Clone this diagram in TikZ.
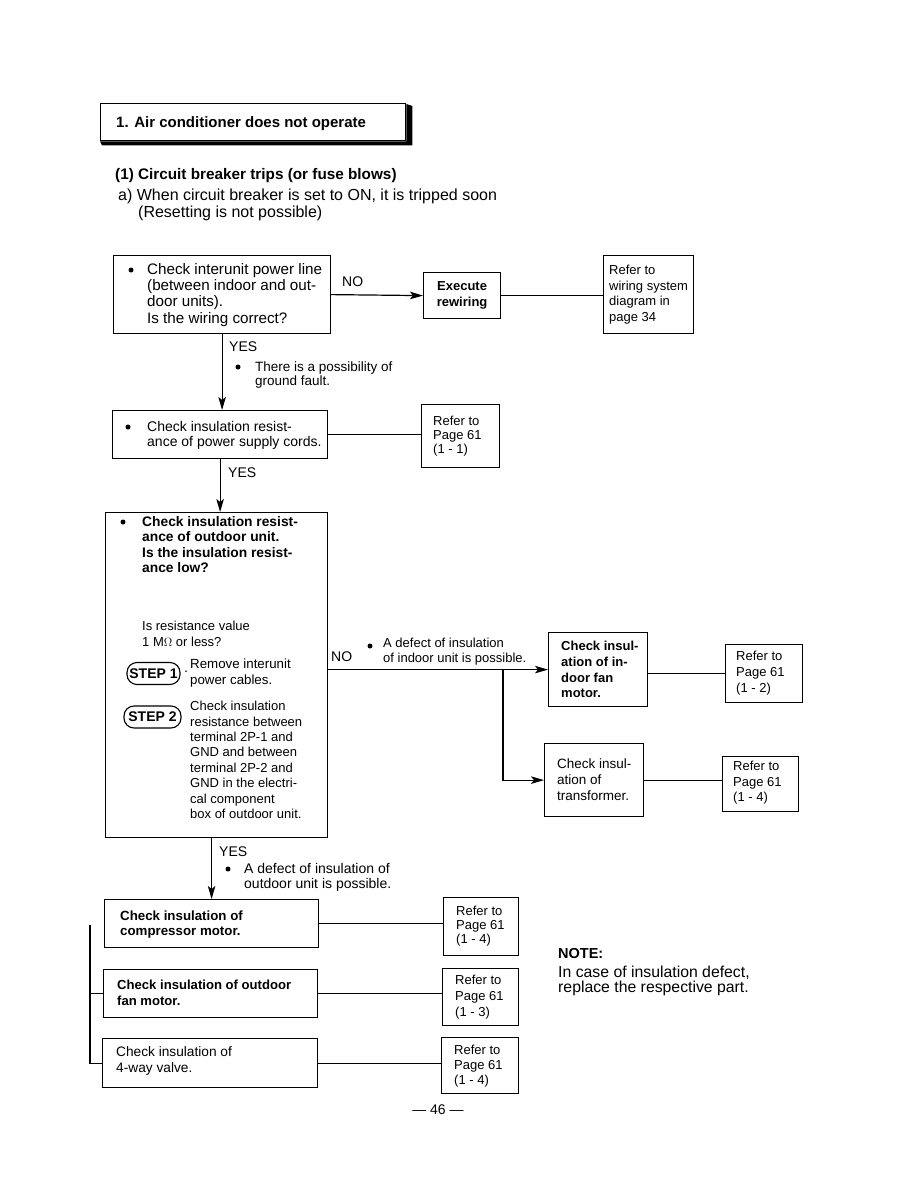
\documentclass[tikz,border=0pt]{standalone}
\usepackage{fontspec}
\setmainfont{Liberation Sans}
\usetikzlibrary{arrows.meta,calc}
\newcommand\myfs[2]{\fontsize{#1}{#2}\selectfont}
\begin{document}
\begin{tikzpicture}[x=1pt,y=-1pt,
  bx/.style={draw, line width=1.2pt, inner sep=0, anchor=north west},
  t/.style={inner sep=0, anchor=north west, align=left, font=\myfs{14}{15.5}},
  tb/.style={t, font=\myfs{14}{15.5}\bfseries},
  ts/.style={t, font=\myfs{13}{15.5}},
  ln/.style={line width=1.2pt},
  arr/.style={ln, -{Stealth[length=13pt,width=7.5pt,inset=3pt]}},
  bul/.style={circle, fill, inner sep=0, minimum size=5pt},
  stepbox/.style={draw, line width=1.1pt, rounded corners=10pt, minimum height=22pt, inner sep=1pt, font=\myfs{14}{14}\bfseries}
]
\useasboundingbox (0,0) rectangle (918,1188);
% header
\node[draw, line width=1.3pt, anchor=north west, minimum width=305pt, minimum height=37pt, inner sep=0] (hdr) at (100,103) {};
\fill ($(hdr.north east)+(0,1)$) -- ++(6,2) -- ($(hdr.south east)+(6,4)$) -- ($(hdr.south west)+(2,4)$) -- (hdr.south west) -- (hdr.south east) -- cycle;
\node[t, font=\myfs{15}{16}\bfseries] (title) at (116,116) {1. Air conditioner does not operate};
\node[t, font=\myfs{15.3}{16}\bfseries] (sub1) at (115,168) {(1) Circuit breaker trips (or fuse blows)};
\node[t, font=\myfs{16}{17}] (sub2a) at (118,189) {a) When circuit breaker is set to ON, it is tripped soon};
\node[t, font=\myfs{16}{17}] (sub2b) at (138,206) {(Resetting is not possible)};

% box 1
\node[bx, minimum width=217pt, minimum height=78pt] (b1) at (113,255) {};
\node[bul] (bu1) at (131,270) {};
\node[t, font=\myfs{15.2}{16.3}] (b1t) at (147,263) {Check interunit power line\\(between indoor and out-\\door units).\\Is the wiring correct?};
\node[t] (no1) at (342,277) {NO};
\node[bx, minimum width=77pt, minimum height=46pt, font=\myfs{13}{15.5}\bfseries, align=center] (exe) at (423,272) {Execute\\rewiring};
\node[bx, minimum width=90pt, minimum height=78pt] (refw) at (603,255) {};
\node[ts] (refwt) at (609,265) {Refer to\\wiring system\\diagram in\\page 34};
\draw[arr] (b1.east) -- (exe.west);
\draw[ln] (exe.east) -- (exe.east -| refw.west);

% box 2
\node[bx, minimum width=215pt, minimum height=48pt] (b2) at (112,410) {};
\draw[arr] (b1.south) -- (b1.south |- b2.north);
\node[t] (yes1) at (229,342) {YES};
\node[bul] (bu2) at (238,367) {};
\node[ts, font=\myfs{13.5}{14}] (gf) at (255,362) {There is a possibility of\\ground fault.};
\node[bul] (bu3) at (128,427) {};
\node[t] (b2t) at (147,421) {Check insulation resist-\\ance of power supply cords.};
\node[bx, minimum width=78pt, minimum height=63pt] (ref1) at (421,404) {};
\node[ts, font=\myfs{13}{14}] (ref1t) at (433,416) {Refer to\\Page 61\\(1 - 1)};
\draw[ln] (b2.east) -- (b2.east -| ref1.west);

% box 3
\node[bx, minimum width=222pt, minimum height=325pt] (b3) at (105,512) {};
\draw[arr] (b2.south) -- (b2.south |- b3.north);
\node[t] (yes2) at (228,468) {YES};
\node[bul] (bu4) at (123,522) {};
\node[tb, font=\myfs{13.8}{15.4}\bfseries] (b3t) at (142,516) {Check insulation resist-\\ance of outdoor unit.\\Is the insulation resist-\\ance low?};
\node[ts, font=\myfs{13}{16}] (b3q) at (142,621) {Is resistance value\\1 M$\Omega$ or less?};
\node[stepbox, minimum width=53pt] (s1) at (153.5,673.5) {STEP 1};
\node[t] (dot) at (184,671) {.};
\node[ts, font=\myfs{13.3}{15.5}] (s1t) at (190,659) {Remove interunit\\power cables.};
\node[stepbox, minimum width=57pt] (s2) at (152.5,717) {STEP 2};
\node[ts, font=\myfs{13}{15.4}] (s2t) at (190,701) {Check insulation\\resistance between\\terminal 2P-1 and\\GND and between\\terminal 2P-2 and\\GND in the electri-\\cal component\\box of outdoor unit.};

% indoor branch
\node[bx, minimum width=99pt, minimum height=74pt] (fan) at (548,632) {};
\node[tb, font=\myfs{13}{15.7}\bfseries] (fant) at (561,641) {Check insul-\\ation of in-\\door fan\\motor.};
\node[bx, minimum width=77pt, minimum height=58pt] (ref2) at (725,644) {};
\node[ts, font=\myfs{13}{16}] (ref2t) at (736,651) {Refer to\\Page 61\\(1 - 2)};
\node[bx, minimum width=99pt, minimum height=73pt] (trans) at (544,743) {};
\node[ts, font=\myfs{13.5}{16}] (transt) at (557,759) {Check insul-\\ation of\\transformer.};
\node[bx, minimum width=76pt, minimum height=55pt] (ref4) at (722,756) {};
\node[ts, font=\myfs{13}{15.5}] (ref4t) at (733,761) {Refer to\\Page 61\\(1 - 4)};
\coordinate (jn) at (503,669);
\draw[arr] (b3.east |- fan.west) -- (fan.west);
\draw[arr] (jn) |- (trans.west);
\draw[ln] (fan.east |- ref2.west) -- (ref2.west);
\draw[ln] (trans.east) -- (trans.east -| ref4.west);
\node[t] (no2) at (331,652) {NO};
\node[bul] (bu5) at (370,646) {};
\node[ts, font=\myfs{13}{15}] (ind) at (383,638) {A defect of insulation\\of indoor unit is possible.};

% bottom boxes
\node[bx, minimum width=214pt, minimum height=48pt] (comp) at (104,899) {};
\draw[arr] (b3.south -| comp.north) -- (comp.north);
\node[t] (yes3) at (219,847) {YES};
\node[bul] (bu6) at (228,869) {};
\node[ts, font=\myfs{14}{15}] (outd) at (244,863) {A defect of insulation of\\outdoor unit is possible.};
\node[tb, font=\myfs{13.3}{14.5}\bfseries] (compt) at (120,911) {Check insulation of\\compressor motor.};
\node[bx, minimum width=75pt, minimum height=58pt] (refc) at (443,897) {};
\node[ts, font=\myfs{13}{14}] (refct) at (456,906) {Refer to\\Page 61\\(1 - 4)};
\draw[ln] (comp.east) -- (comp.east -| refc.west);

\node[bx, minimum width=214pt, minimum height=48pt] (ofan) at (103,969) {};
\node[tb, font=\myfs{13.1}{16}\bfseries] (ofant) at (117,980) {Check insulation of outdoor\\fan motor.};
\node[bx, minimum width=76pt, minimum height=57pt] (refo) at (442,968) {};
\node[ts, font=\myfs{13}{16}] (refot) at (455,975) {Refer to\\Page 61\\(1 - 3)};
\draw[ln] (ofan.east) -- (ofan.east -| refo.west);

\node[bx, minimum width=215pt, minimum height=49pt] (way) at (102,1038) {};
\node[t, font=\myfs{13.7}{16.5}] (wayt) at (116,1046) {Check insulation of\\4-way valve.};
\node[bx, minimum width=77pt, minimum height=56pt] (refv) at (441,1037) {};
\node[ts, font=\myfs{13}{15}] (refvt) at (454,1045) {Refer to\\Page 61\\(1 - 4)};
\draw[ln] (way.east) -- (way.east -| refv.west);

\coordinate (brk) at (90,925);
\draw[ln] (brk) |- (way.west);
\draw[ln] (brk |- ofan.west) -- (ofan.west);

% note
\node[tb, font=\myfs{14.5}{15}\bfseries] (note) at (558,948) {NOTE:};
\node[t, font=\myfs{15.8}{14.5}] (notet) at (558,966) {In case of insulation defect,\\replace the respective part.};
\node[inner sep=0, font=\myfs{14}{14}] (pg) at (438,1110) {— 46 —};
\end{tikzpicture}
\end{document}
